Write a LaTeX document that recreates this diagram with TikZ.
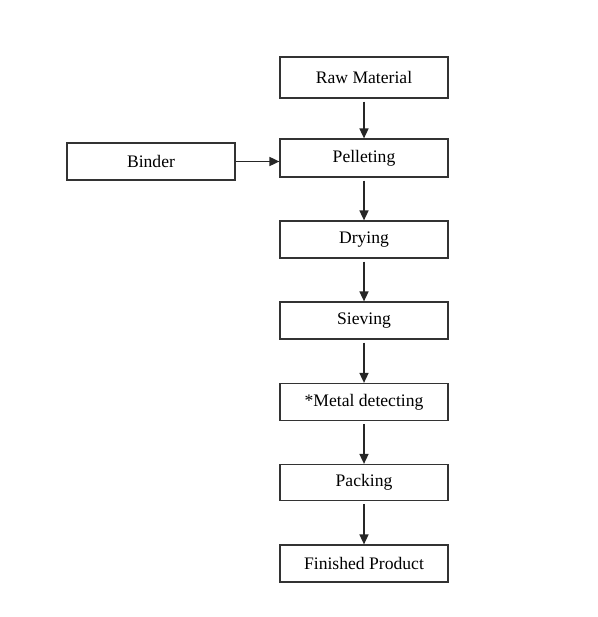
\documentclass[tikz,border=0pt]{standalone}
\usepackage{fontspec}
\setmainfont{Liberation Serif}
\usetikzlibrary{arrows.meta}
\begin{document}
\begin{tikzpicture}[x=1pt,y=-1pt,
  stepbox/.style={draw=black!80,line width=1.2pt,minimum width=168pt,minimum height=38pt,inner sep=0pt,font=\fontsize{17.6}{20}\selectfont,fill=white},
  flow/.style={draw=black!85,line width=1.6pt,-{Triangle[length=10pt,width=9pt]}}]
\useasboundingbox (0,0) rectangle (597,617);
\node[stepbox,minimum height=41pt] (raw) at (364,77.5) {Raw Material};
\node[stepbox] (pel) at (364,158) {Pelleting};
\node[stepbox,minimum height=37pt] (bind) at (151,161.5) {Binder};
\node[stepbox,minimum height=37pt] (dry) at (364,239.5) {Drying};
\node[stepbox,minimum height=37pt] (sieve) at (364,320.5) {Sieving};
\node[stepbox,minimum height=37pt] (metal) at (364,402) {*Metal detecting};
\node[stepbox,minimum height=36pt] (pack) at (364,482.5) {Packing};
\node[stepbox,minimum height=37pt] (fin) at (364,563.5) {Finished Product};
\draw[flow] ([yshift=-3pt]raw.south) -- (pel.north);
\draw[flow] (bind.east) -- (bind.east -| pel.west);
\draw[flow] ([yshift=-3pt]pel.south) -- (dry.north);
\draw[flow] ([yshift=-3pt]dry.south) -- (sieve.north);
\draw[flow] ([yshift=-3pt]sieve.south) -- (metal.north);
\draw[flow] ([yshift=-3pt]metal.south) -- (pack.north);
\draw[flow] ([yshift=-3pt]pack.south) -- (fin.north);
\end{tikzpicture}
\end{document}
